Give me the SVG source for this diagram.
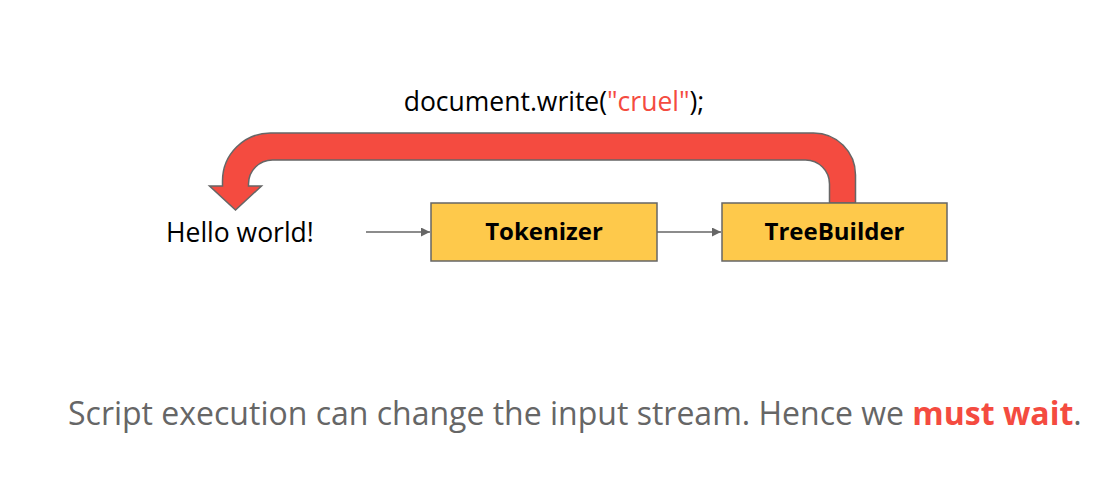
<svg xmlns="http://www.w3.org/2000/svg" width="1120" height="478" viewBox="0 0 1120 478">
<style>
.box{fill:#fec94b;stroke:#666;stroke-width:1.5}
.lbl{font-family:"Open Sans",sans-serif;font-weight:bold;font-size:24px;fill:#000;text-anchor:middle}
.txt{font-family:"Open Sans",sans-serif;font-size:26.5px;fill:#000}
.conn{stroke:#666;stroke-width:1.5;fill:none;marker-end:url(#ah)}
.red{fill:#f44b40}
</style>
<defs>
<marker id="ah" viewBox="0 0 10 10" refX="10" refY="5" markerWidth="10" markerHeight="9" markerUnits="userSpaceOnUse" orient="auto"><path d="M0,0 L10,5 L0,10 Z" fill="#666"/></marker>
</defs>
<rect width="1120" height="478" fill="#fff"/>
<g id="connectors">
<line class="conn" x1="366" y1="232" x2="430" y2="232"/>
<line class="conn" x1="657" y1="232" x2="721" y2="232"/>
<path id="feedback" d="M 829.5 203 L 829.5 184 A 24 24 0 0 0 805.5 160 L 272.5 160 A 24 24 0 0 0 248.5 184 L 248.5 186 L 261.5 186 L 235.5 210 L 209.5 186 L 222.5 186 L 222.5 181 A 48 48 0 0 1 270.5 133 L 813.5 133 A 42 42 0 0 1 855.5 175 L 855.5 203 Z" fill="#f44b40" stroke="#666" stroke-width="1.5" stroke-linejoin="miter"/>
</g>
<g id="script-label">
<text class="txt" x="554" y="111" text-anchor="middle">document.write(<tspan class="red">"cruel"</tspan>);</text>
</g>
<g id="input">
<text class="txt" x="166" y="242">Hello world!</text>
</g>
<g id="tokenizer">
<rect class="box" x="431" y="203" width="226" height="58"/>
<text class="lbl" x="544" y="240">Tokenizer</text>
</g>
<g id="treebuilder">
<rect class="box" x="722" y="203" width="225" height="58"/>
<text class="lbl" x="834.5" y="240">TreeBuilder</text>
</g>
<g id="caption">
<text x="68" y="425" font-family="'Open Sans',sans-serif" font-size="32" fill="#666">Script execution can change the input stream. Hence we <tspan font-weight="bold" fill="#f44b40">must wait</tspan>.</text>
</g>
</svg>
